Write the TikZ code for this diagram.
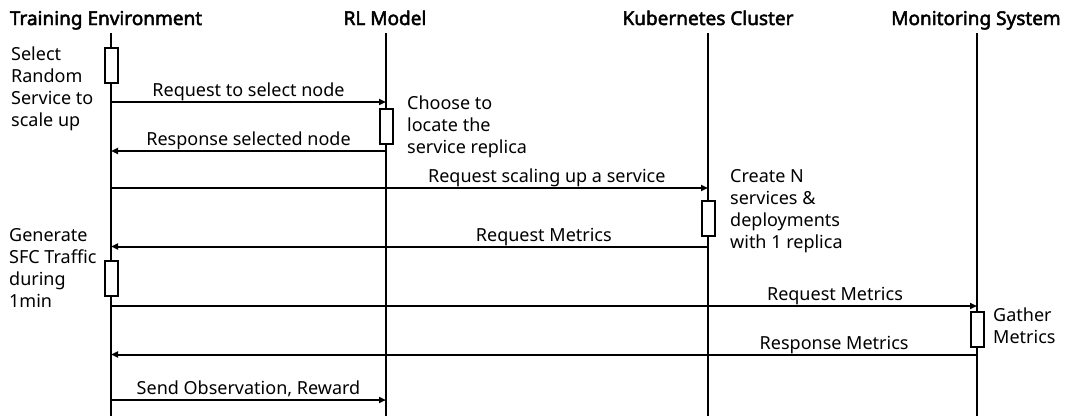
\documentclass[tikz,border=0pt]{standalone}
\usepackage{fontspec}
\setmainfont{Noto Sans}[AutoFakeBold=2.5]
\usetikzlibrary{arrows.meta}

\begin{document}
\begin{tikzpicture}[x=1pt,y=-1pt,
  actor/.style={anchor=base,inner sep=0pt,font=\bfseries\fontsize{19}{22}\selectfont},
  life/.style={line width=2pt},
  actbox/.style={draw,line width=2pt,fill=white,minimum width=13pt,minimum height=35pt,inner sep=0pt},
  msg/.style={line width=2pt,-{Triangle[length=7pt,width=6pt]}},
  lbl/.style={anchor=base,yshift=5.5pt,inner sep=0pt},
  note/.style={anchor=base west,align=left,inner sep=0pt}]

\useasboundingbox (0,0) rectangle (1076,418);

\newcommand\LTop{33}
\newcommand\LBot{416}

\fontsize{18}{22}\selectfont

% participants
\node[actor] (teh) at (106,25) {Training Environment};
\node[actor] (rlh) at (385,25) {RL Model};
\node[actor] (kch) at (708,25) {Kubernetes Cluster};
\node[actor] (msh) at (976,25) {Monitoring System};

\coordinate (te) at (111,\LTop); \coordinate (teb) at (111,\LBot);
\coordinate (rl) at (386,\LTop); \coordinate (rlb) at (386,\LBot);
\coordinate (kc) at (708,\LTop); \coordinate (kcb) at (708,\LBot);
\coordinate (ms) at (977,\LTop); \coordinate (msb) at (977,\LBot);

\draw[life] (te) -- (teb);
\draw[life] (rl) -- (rlb);
\draw[life] (kc) -- (kcb);
\draw[life] (ms) -- (msb);

% activations
\node[actbox] (a1) at (te |- 0,65) {};
\node[actbox] (a2) at (rl |- 0,126.5) {};
\node[actbox] (a3) at (kc |- 0,218) {};
\node[actbox] (a4) at (te |- 0,278.5) {};
\node[actbox] (a5) at (ms |- 0,329.5) {};

% messages
\draw[msg] (te |- 0,102) -- node[lbl]{Request to select node} (rl |- 0,102);
\draw[msg] (rl |- 0,151) -- node[lbl]{Response selected node} (te |- 0,151);
\draw[msg] (te |- 0,188) -- node[lbl,pos=.73]{Request scaling up a service} (kc |- 0,188);
\draw[msg] (kc |- 0,246.5) -- node[lbl,pos=.275]{Request Metrics} (te |- 0,246.5);
\draw[msg] (te |- 0,306) -- node[lbl,pos=.836]{Request Metrics} (ms |- 0,306);
\draw[msg] (ms |- 0,354.5) -- node[lbl,pos=.165]{Response Metrics} (te |- 0,354.5);
\draw[msg] (te |- 0,400) -- node[lbl]{Send Observation, Reward} (rl |- 0,400);

% notes (anchored on the last line)
\node[note] (n1) at (11,126.5) {Select\\Random\\Service to\\scale up};
\node[note] (n2) at (407,153) {Choose to\\locate the\\service replica};
\node[note] (n3) at (730,248) {Create N\\services \&\\deployments\\with 1 replica};
\node[note] (n4) at (9,307) {Generate\\SFC Traffic\\during\\1min};
\node[note] (n5) at (993,343.5) {Gather\\Metrics};

\end{tikzpicture}
\end{document}
